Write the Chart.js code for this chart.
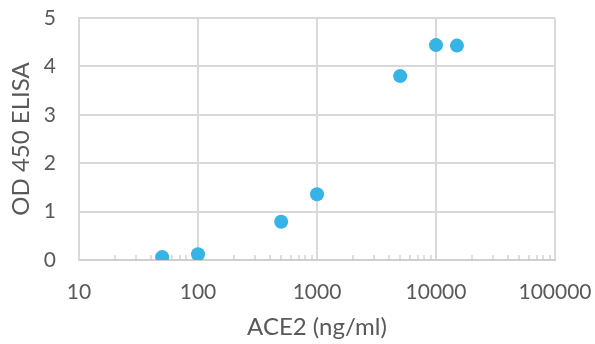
<!DOCTYPE html>
<html>
<head>
<meta charset="utf-8">
<script src="https://cdn.jsdelivr.net/npm/chart.js@4/dist/chart.umd.min.js"></script>
<style>
    html, body { margin: 0; padding: 0; background: #ffffff; }
    #wrap { width: 595px; height: 344px; }
</style>
</head>
<body>
<div id="wrap"><canvas id="elisaChart"></canvas></div>
<script>
// ACE2 concentration (ng/ml) and OD 450 reading
const concentrations = [50, 100, 500, 1000, 5000, 10000, 15000];
const odValues = [0.06, 0.12, 0.79, 1.36, 3.80, 4.44, 4.43];

// Axis ticks
const xMajorTicks = [10, 100, 1000, 10000, 100000];
const yTicks = [0, 1, 2, 3, 4, 5];

const gridColor = '#d9d9d9';
const textColor = '#595959';
const fontFamily = 'Lato, "Open Sans", sans-serif';

// Small inward tick marks at 2..9 of each decade
const minorTicksPlugin = {
    id: 'minorTicks',
    beforeDatasetsDraw(chart) {
        const xScale = chart.scales.x;
        const bottom = chart.chartArea.bottom;
        const ctx = chart.ctx;
        ctx.save();
        ctx.strokeStyle = '#c8c8c8';
        ctx.lineWidth = 1.2;
        for (let i = 0; i < xMajorTicks.length - 1; i++) {
            for (let k = 2; k <= 9; k++) {
                const px = Math.round(xScale.getPixelForValue(xMajorTicks[i] * k));
                ctx.beginPath();
                ctx.moveTo(px, bottom);
                ctx.lineTo(px, bottom - 5);
                ctx.stroke();
            }
        }
        ctx.restore();
    }
};

function createElisaChart() {
    const ctx = document.getElementById('elisaChart');
    if (!ctx) return null;

    const points = concentrations.map((c, i) => ({ x: c, y: odValues[i] }));

    try {
        return new Chart(ctx, {
            type: 'scatter',
            data: {
                datasets: [
                    {
                        data: points,
                        pointRadius: 7,
                        pointHoverRadius: 7,
                        pointBackgroundColor: '#35b4e5',
                        pointBorderColor: '#35b4e5',
                        pointBorderWidth: 0
                    }
                ]
            },
            options: {
                responsive: true,
                maintainAspectRatio: false,
                animation: false,
                layout: {
                    padding: { top: 18, right: 40, bottom: 0, left: 0 }
                },
                plugins: {
                    legend: { display: false },
                    tooltip: { enabled: false }
                },
                scales: {
                    x: {
                        type: 'logarithmic',
                        min: 10,
                        max: 100000,
                        afterBuildTicks: (scale) => {
                            scale.ticks = xMajorTicks.map(v => ({ value: v }));
                        },
                        afterFit: (scale) => {
                            scale.height = 84;
                            scale.paddingLeft = 0;
                            scale.paddingRight = 0;
                        },
                        ticks: {
                            color: textColor,
                            font: { family: fontFamily, size: 21 },
                            padding: 20,
                            maxRotation: 0,
                            autoSkip: false,
                            callback: (value) => String(value)
                        },
                        grid: {
                            color: gridColor,
                            lineWidth: 2,
                            drawTicks: false
                        },
                        border: { color: '#d0d0d0', width: 2 },
                        title: {
                            display: true,
                            text: 'ACE2 (ng/ml)',
                            color: textColor,
                            font: { family: fontFamily, size: 24 },
                            padding: { top: 0, bottom: 2 }
                        }
                    },
                    y: {
                        min: 0,
                        max: 5,
                        afterBuildTicks: (scale) => {
                            scale.ticks = yTicks.map(v => ({ value: v }));
                        },
                        afterFit: (scale) => {
                            scale.width = 79;
                            scale.paddingTop = 0;
                            scale.paddingBottom = 0;
                        },
                        ticks: {
                            color: textColor,
                            font: { family: fontFamily, size: 21 },
                            padding: 23
                        },
                        grid: {
                            color: gridColor,
                            lineWidth: 2,
                            drawTicks: false
                        },
                        border: { color: gridColor, width: 2 },
                        title: {
                            display: true,
                            text: 'OD 450 ELISA',
                            color: textColor,
                            font: { family: fontFamily, size: 24 },
                            padding: { top: 7, bottom: 0 }
                        }
                    }
                }
            },
            plugins: [minorTicksPlugin]
        });
    } catch (error) {
        console.error('Error creating ELISA chart:', error);
        return null;
    }
}

createElisaChart();
</script>
</body>
</html>
